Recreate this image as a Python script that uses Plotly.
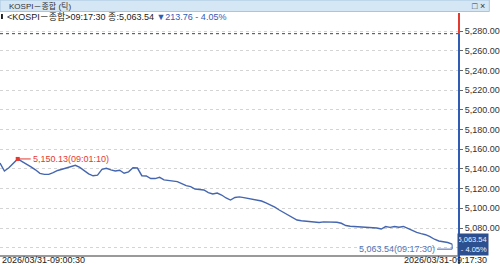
import plotly.graph_objects as go
import pandas as pd

# ---------------- data ----------------
start_time = "2026-03-31 09:00:30"
end_time = "2026-03-31 09:17:30"
times = pd.date_range(start_time, end_time, freq="10s")

values = [
    5146.0, 5137.9, 5141.1, 5145.4, 5150.13, 5147.5, 5145.0, 5142.1, 5139.1, 5135.5,
    5134.5, 5134.5, 5136.2, 5138.4, 5139.7, 5140.9, 5142.3, 5143.7, 5141.6, 5138.1,
    5135.0, 5133.0, 5133.7, 5139.5, 5140.6, 5139.0, 5137.9, 5138.7, 5135.6, 5137.0,
    5141.1, 5140.9, 5133.1, 5132.8, 5130.2, 5130.2, 5131.5, 5128.9, 5128.3, 5127.8,
    5127.1, 5125.0, 5123.0, 5122.0, 5119.6, 5119.1, 5118.6, 5116.0, 5114.5, 5115.5,
    5113.5, 5110.5, 5108.4, 5111.0, 5111.6, 5110.9, 5109.9, 5109.1, 5108.3, 5107.4,
    5105.5, 5103.4, 5101.1, 5098.3, 5095.6, 5093.4, 5090.9, 5088.1, 5087.4, 5087.0,
    5086.8, 5086.1, 5085.6, 5086.2, 5086.0, 5086.1, 5085.8, 5084.8, 5082.5, 5081.8,
    5081.5, 5081.4, 5081.0, 5080.7, 5080.5, 5080.0, 5079.0, 5081.5, 5080.7, 5081.6,
    5080.8, 5081.6, 5079.6, 5077.4, 5075.5, 5074.3, 5073.2, 5071.3, 5068.6, 5066.8,
    5066.3, 5065.3, 5063.54,
]

prev_close = 5277.30
y_ticks = [5060, 5080, 5100, 5120, 5140, 5160, 5180, 5200, 5220, 5240, 5260, 5280]
hidden_tick = 5060  # label covered by the last-value box
peak_index = 4
peak_value = 5150.13
peak_label = "5,150.13(09:01:10)"
last_value = 5063.54
last_label = "5,063.54(09:17:30)"
change_text = "▼213.76 - 4.05%"
last_pct = "- 4.05%"
title_text = "KOSPI－종합 (틱)"
header_text = "&lt;KOSPI－종합&gt;09:17:30 종:5,063.54 "
left_date = "2026/03/31-09:00:30"
right_date = "2026/03/31-09:17:30"

# ---------------- layout geometry ----------------
W, H = 500, 264
ML, MR, MT, MB = 0, 31, 13, 9
PW, PH = W - ML - MR, H - MT - MB
Y_MIN, Y_MAX = 5052.6, 5298.3

def px(x):
    return (x - ML) / PW

def py(y):
    return (H - MB - y) / PH

FONT = "'Liberation Sans Narrow', 'Arial Narrow', 'Liberation Sans', 'Noto Sans CJK KR', sans-serif"
LINE_BLUE = "#4466b0"
AXIS_BLUE = "#2f5db5"
RED = "#e23a30"

x_end = times[0] + pd.Timedelta(seconds=1020 * PW / 462)

fig = go.Figure()
fig.add_trace(go.Scatter(x=times, y=values, mode="lines",
                         line=dict(color=LINE_BLUE, width=1.4), hoverinfo="x+y",
                         showlegend=False))
fig.add_trace(go.Scatter(x=[times[peak_index]], y=[peak_value], mode="markers",
                         marker=dict(color=RED, size=4, symbol="square"),
                         showlegend=False))

shapes = []
# title bar
shapes.append(dict(type="rect", xref="paper", yref="paper", x0=px(0), x1=px(500),
                   y0=py(11.5), y1=py(0), fillcolor="#d5e6f4",
                   line=dict(color="#a8c6e0", width=1), layer="above"))
# small black bar in header
shapes.append(dict(type="rect", xref="paper", yref="paper", x0=px(1), x1=px(3),
                   y0=py(19), y1=py(14), fillcolor="#222", line=dict(width=0)))
# previous close dotted line
shapes.append(dict(type="line", xref="paper", yref="y", x0=0, x1=1,
                   y0=prev_close, y1=prev_close,
                   line=dict(color="#444", width=1, dash="dot")))
# right axis: red above previous close, blue below
shapes.append(dict(type="line", xref="paper", yref="y", x0=1, x1=1,
                   y0=prev_close, y1=Y_MAX, line=dict(color=RED, width=2)))
shapes.append(dict(type="line", xref="paper", yref="paper", x0=1, x1=1,
                   y0=py(264), y1=py(33.5), line=dict(color=AXIS_BLUE, width=2)))
# end-point connector
lab_y = last_value - 5
shapes.append(dict(type="line", xref="x", yref="y",
                   x0=times[-1] - pd.Timedelta(seconds=34), x1=times[-1],
                   y0=lab_y, y1=lab_y, line=dict(color=LINE_BLUE, width=1)))
shapes.append(dict(type="line", xref="x", yref="y",
                   x0=times[-1], x1=times[-1],
                   y0=lab_y, y1=last_value, line=dict(color=LINE_BLUE, width=1)))

annotations = [
    dict(xref="paper", yref="paper", x=px(7), y=py(6), text=title_text,
         showarrow=False, xanchor="left", yanchor="middle",
         font=dict(family=FONT, size=8, color="#333")),
    dict(xref="paper", yref="paper", x=px(498), y=py(6), text="□ ×",
         showarrow=False, xanchor="right", yanchor="middle",
         font=dict(family=FONT, size=9, color="#333")),
    dict(xref="paper", yref="paper", x=px(5), y=py(16.5),
         text=header_text + f"<span style='color:{AXIS_BLUE}'>{change_text}</span>",
         showarrow=False, xanchor="left", yanchor="middle",
         font=dict(family=FONT, size=9, color="#222")),
    dict(xref="x", yref="y", x=times[peak_index], y=peak_value, text=peak_label,
         showarrow=True, arrowhead=0, arrowwidth=1, arrowcolor=RED,
         ax=13, ay=0, xanchor="left", yanchor="middle",
         font=dict(family=FONT, size=9, color=RED)),
    dict(xref="x", yref="y", x=times[-1] - pd.Timedelta(seconds=34), y=lab_y,
         text=last_label, showarrow=False, xanchor="right", yanchor="middle",
         font=dict(family=FONT, size=9, color="#5575b5")),
    dict(xref="paper", yref="paper", x=px(500), y=py(244), text=f"{last_value:,.2f}<br>{last_pct}",
         showarrow=False, xanchor="right", yanchor="middle", align="right",
         bgcolor="#2c4f8f", borderpad=1, width=28,
         font=dict(family=FONT, size=7.5, color="#e8f0ff")),
    dict(xref="paper", yref="paper", x=px(0), y=py(260), text=left_date,
         showarrow=False, xanchor="left", yanchor="middle",
         font=dict(family=FONT, size=9, color="#222")),
    dict(xref="paper", yref="paper", x=px(500), y=py(260), text=right_date,
         showarrow=False, xanchor="right", yanchor="middle",
         font=dict(family=FONT, size=9, color="#222")),
]

fig.update_layout(
    width=W, height=H,
    margin=dict(l=ML, r=MR, t=MT, b=MB, pad=0),
    paper_bgcolor="white", plot_bgcolor="white",
    shapes=shapes, annotations=annotations,
    showlegend=False,
    xaxis=dict(type="date", range=[times[0], x_end], showticklabels=False,
               showgrid=False, zeroline=False, showline=True,
               linecolor="#9a9a9a", linewidth=1.5, ticks=""),
    yaxis=dict(side="right", range=[Y_MIN, Y_MAX], tickvals=y_ticks,
               ticktext=["" if v == hidden_tick else f"{v:,.2f}" for v in y_ticks],
               ticks="outside", ticklen=3, tickcolor="#666",
               showgrid=True, gridcolor="#d4d4d4", griddash="dot", gridwidth=1,
               zeroline=False, showline=False,
               tickfont=dict(family=FONT, size=9, color="#333")),
)

fig.write_html("out.html")
